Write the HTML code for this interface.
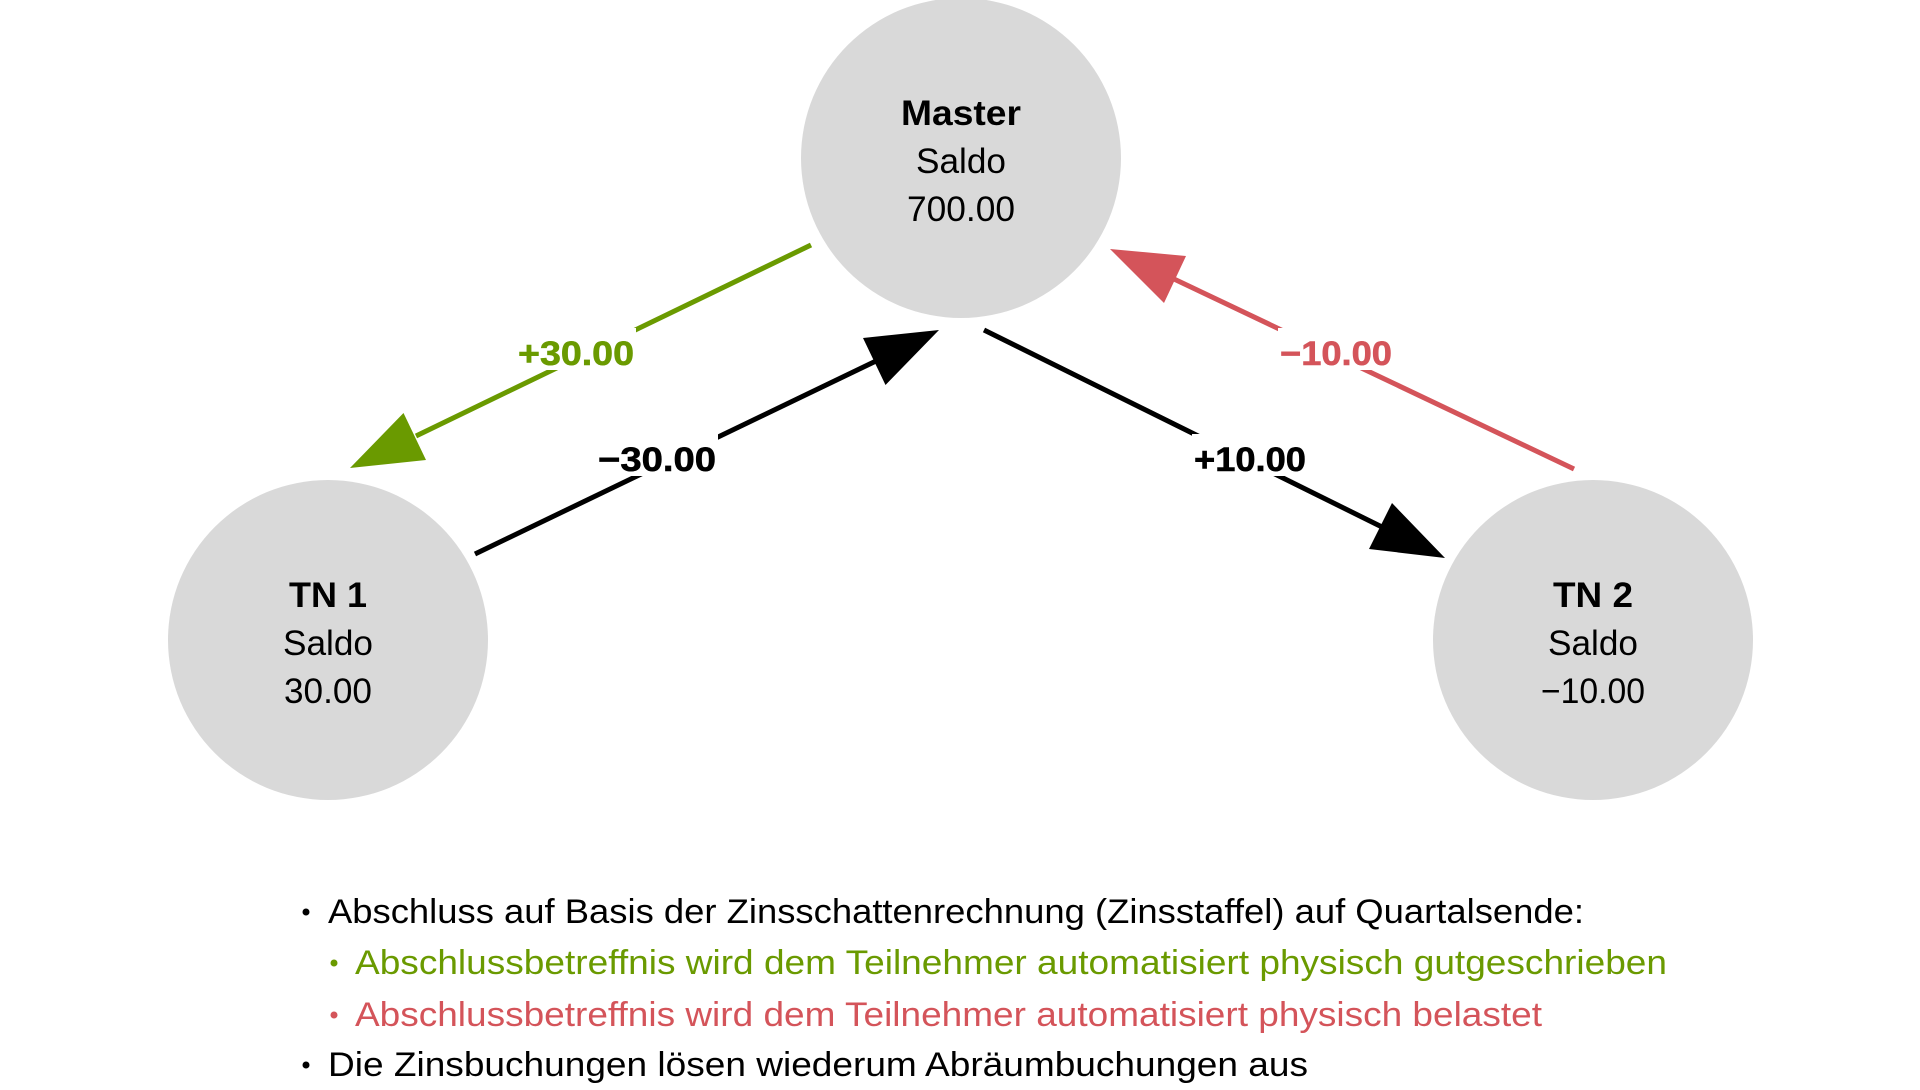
<!DOCTYPE html>
<html><head><meta charset="utf-8"><style>html,body{margin:0;padding:0;background:#fff;}svg{display:block}</style></head>
<body>
<svg width="1920" height="1090" viewBox="0 0 1920 1090" xmlns="http://www.w3.org/2000/svg" font-family="Liberation Sans, Arial, sans-serif">
<g transform="translate(-4,-2)">
<circle cx="965" cy="160" r="160" fill="#d9d9d9"/>
<circle cx="332" cy="642" r="160" fill="#d9d9d9"/>
<circle cx="1597" cy="642" r="160" fill="#d9d9d9"/>

<g stroke-width="5" fill="none">
<line x1="815" y1="247" x2="420" y2="438" stroke="#6a9a00"/>
<line x1="479" y1="556" x2="880" y2="363" stroke="#000"/>
<line x1="988" y1="332" x2="1386" y2="529" stroke="#000"/>
<line x1="1578" y1="471" x2="1178" y2="281" stroke="#d4545a"/>
</g>
<polygon points="354,470 430,462 407.5,415" fill="#6a9a00"/>
<polygon points="943,332 889.5,387 867,340" fill="#000"/>
<polygon points="1449,560 1373,551 1396,505" fill="#000"/>
<polygon points="1114,251 1190,258 1168,305" fill="#d4545a"/>

<g font-weight="bold" font-size="34" text-anchor="middle" stroke-width="0.6">
<rect x="520" y="330" width="120" height="42" fill="#fff"/>
<text x="580" y="367" fill="#6a9a00" stroke="#6a9a00" textLength="116" lengthAdjust="spacingAndGlyphs">+30.00</text>
<rect x="600" y="436" width="122" height="42" fill="#fff"/>
<text x="661" y="473" fill="#000" stroke="#000" textLength="118" lengthAdjust="spacingAndGlyphs">−30.00</text>
<rect x="1196" y="436" width="116" height="42" fill="#fff"/>
<text x="1254" y="473" fill="#000" stroke="#000" textLength="112" lengthAdjust="spacingAndGlyphs">+10.00</text>
<rect x="1282" y="330" width="116" height="42" fill="#fff"/>
<text x="1340" y="367" fill="#d4545a" stroke="#d4545a" textLength="112" lengthAdjust="spacingAndGlyphs">−10.00</text>
</g>

<g font-size="35" text-anchor="middle" fill="#000">
<text x="965" y="127" font-weight="bold" textLength="120" lengthAdjust="spacingAndGlyphs">Master</text>
<text x="965" y="175" textLength="90" lengthAdjust="spacingAndGlyphs">Saldo</text>
<text x="965" y="223" textLength="108" lengthAdjust="spacingAndGlyphs">700.00</text>
<text x="332" y="609" font-weight="bold" textLength="78" lengthAdjust="spacingAndGlyphs">TN 1</text>
<text x="332" y="657" textLength="90" lengthAdjust="spacingAndGlyphs">Saldo</text>
<text x="332" y="705" textLength="88" lengthAdjust="spacingAndGlyphs">30.00</text>
<text x="1597" y="609" font-weight="bold" textLength="80" lengthAdjust="spacingAndGlyphs">TN 2</text>
<text x="1597" y="657" textLength="90" lengthAdjust="spacingAndGlyphs">Saldo</text>
<text x="1597" y="705" textLength="104" lengthAdjust="spacingAndGlyphs">−10.00</text>
</g>

<g font-size="34">
<circle cx="310" cy="914" r="3.5" fill="#000"/>
<text x="332" y="925" fill="#000" textLength="1256" lengthAdjust="spacingAndGlyphs">Abschluss auf Basis der Zinsschattenrechnung (Zinsstaffel) auf Quartalsende:</text>
<circle cx="338" cy="965" r="3.5" fill="#6a9a00"/>
<text x="359" y="976" fill="#6a9a00" textLength="1312" lengthAdjust="spacingAndGlyphs">Abschlussbetreffnis wird dem Teilnehmer automatisiert physisch gutgeschrieben</text>
<circle cx="338" cy="1017" r="3.5" fill="#d4545a"/>
<text x="359" y="1028" fill="#d4545a" textLength="1187" lengthAdjust="spacingAndGlyphs">Abschlussbetreffnis wird dem Teilnehmer automatisiert physisch belastet</text>
<circle cx="310" cy="1067" r="3.5" fill="#000"/>
<text x="332" y="1078" fill="#000" textLength="980" lengthAdjust="spacingAndGlyphs">Die Zinsbuchungen lösen wiederum Abräumbuchungen aus</text>
</g>
</g>
</svg>
</body></html>
